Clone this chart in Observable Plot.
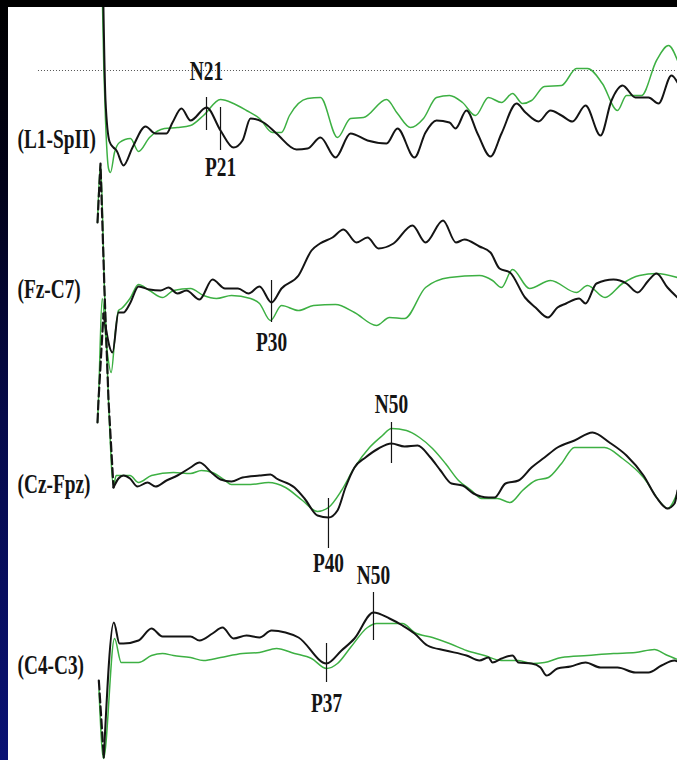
<!DOCTYPE html>
<html><head><meta charset="utf-8">
<script src="https://cdn.jsdelivr.net/npm/d3@7"></script>
<script src="https://cdn.jsdelivr.net/npm/@observablehq/plot@0.6"></script>
<style>
html,body{margin:0;padding:0;background:#000;}
#wrap{position:relative;width:677px;height:760px;overflow:hidden;background:#fff;}
#wrap svg{position:absolute;left:0;top:0;}
#topbar{position:absolute;left:0;top:0;width:677px;height:7px;background:#000;z-index:5;}
#leftbar{position:absolute;left:0;top:0;width:8px;height:760px;z-index:5;
  background:linear-gradient(to bottom,#000 0%,#02021a 25%,#060a4a 55%,#0a1274 100%);}
</style></head>
<body><div id="wrap"><div id="topbar"></div><div id="leftbar"></div></div>
<script>
// ---- data: time (ms after stimulus), amplitude (arbitrary units, up = positive)
const channels = ["(L1-SpII)", "(Fz-C7)", "(Cz-Fpz)", "(C4-C3)"];

const l1Black = [[0.43,15.0],[0.87,3.0],[1.56,-1.1],[2.25,-1.7],[2.77,-2.0],[3.99,-3.5],[5.55,-1.7],[7.80,0.4],[9.53,-0.3],[11.44,-0.3],[12.48,0.8],[14.04,2.2],[15.60,1.0],[18.37,2.3],[20.80,0.0],[23.05,-1.7],[24.61,-1.0],[26.00,1.2],[28.25,0.8],[30.50,-0.3],[33.97,-1.9],[35.88,-1.8],[38.13,-0.7],[40.73,-2.7],[43.33,-0.3],[46.27,-1.0],[49.57,-1.3],[51.47,0.2],[54.42,-2.7],[56.33,-0.2],[58.23,1.0],[60.49,0.8],[61.53,0.2],[63.43,2.0],[65.34,-0.3],[67.59,-2.6],[69.50,-0.3],[72.10,2.7],[73.66,1.8],[75.91,0.9],[77.99,2.0],[79.90,1.5],[81.80,0.9],[84.06,2.5],[86.66,-0.5],[88.56,3.0],[90.47,4.5],[92.72,3.3],[94.97,3.3],[96.71,2.7],[98.96,5.5],[100,4.8]];
const l1Green = [[0.26,15.0],[0.57,6.3],[0.87,1.0],[1.39,-3.8],[1.73,-4.2],[2.43,-2.2],[3.29,-1.2],[5.20,-0.8],[6.59,-2.1],[8.49,-0.7],[11.09,0.2],[13.34,0.3],[15.60,0.5],[17.85,1.5],[20.80,3.1],[23.05,2.7],[25.30,2.0],[27.56,1.2],[29.81,-0.2],[31.37,-0.2],[32.76,1.5],[35.88,3.2],[38.13,3.3],[41.07,-0.7],[43.33,1.2],[45.58,1.3],[49.57,3.1],[51.47,1.7],[53.73,0.3],[55.98,1.2],[58.23,3.3],[60.49,3.5],[62.74,2.8],[64.99,1.5],[67.24,3.3],[69.50,2.8],[71.40,3.7],[73.14,2.7],[74.70,3.0],[76.95,4.4],[79.90,4.5],[82.50,6.2],[84.40,6.2],[86.97,4.7],[89.60,2.0],[91.16,3.5],[93.76,3.5],[96.36,7.0],[98.44,8.5],[100,7.0]];

const fzBlack = [[-0.52,-12.7],[-0.35,-10.5],[0.52,-1.8],[2.08,-5.7],[3.12,-1.7],[3.99,-1.7],[5.11,-0.8],[6.59,0.9],[8.49,0.6],[10.40,0.5],[11.79,0.8],[13.34,0.2],[14.90,0.5],[17.16,-0.4],[19.41,1.6],[21.58,0.7],[23.83,0.7],[25.65,0.2],[27.56,0.9],[29.64,-0.7],[31.37,0.7],[34.32,2.0],[36.57,4.5],[38.04,5.2],[40.21,5.8],[42.11,6.6],[44.37,5.3],[46.27,5.8],[48.18,4.7],[50.78,5.2],[54.07,7.0],[56.33,5.3],[59.36,7.5],[61.61,5.3],[63.08,5.6],[65.68,4.9],[67.59,4.3],[69.15,2.7],[70.97,2.3],[73.57,-0.2],[75.39,-1.2],[77.56,-2.2],[79.20,-1.2],[80.69,-0.8],[82.95,-0.3],[84.06,-0.8],[85.96,1.2],[88.91,1.6],[91.16,1.2],[93.07,0.3],[94.97,1.5],[96.36,2.2],[98.27,0.8],[100,-0.2]];
const fzGreen = [[-0.52,-12.7],[-0.35,-10.5],[0.29,-0.3],[1.04,-5.0],[1.85,-7.7],[2.60,-3.5],[3.12,-1.5],[3.64,-1.3],[5.11,-0.3],[6.59,1.1],[8.49,0.5],[10.75,-0.2],[12.65,0.5],[15.60,0.7],[17.85,0.0],[20.10,-0.3],[22.70,0.0],[26.00,-0.3],[27.56,-0.8],[29.46,-2.5],[31.37,-1.0],[34.32,-1.5],[36.92,-1.0],[40.73,-0.9],[44.02,-1.7],[47.83,-3.0],[50.09,-2.2],[52.69,-2.3],[56.33,0.8],[60.49,1.8],[65.68,2.0],[67.94,1.5],[69.50,0.8],[71.40,2.6],[74.35,0.7],[77.99,1.5],[82.50,0.3],[84.40,1.0],[87.44,-0.2],[90.47,1.2],[93.41,2.0],[96.36,2.2],[100,1.8]];

const czBlack = [[-0.52,26.3],[0.0,32.2],[0.69,19.5],[1.39,8.5],[2.25,-0.2],[3.12,0.7],[3.99,1.0],[5.11,0.7],[6.41,-0.1],[8.15,0.3],[9.53,-0.1],[11.44,0.5],[13.34,1.0],[15.60,1.8],[17.16,2.3],[19.41,1.2],[20.80,0.6],[22.70,0.4],[24.61,0.8],[27.56,1.0],[29.46,1.1],[30.50,0.7],[33.62,-0.2],[35.36,-1.3],[37.61,-3.0],[39.51,-3.2],[41.07,-2.5],[42.46,-0.2],[44.02,1.8],[45.93,2.8],[48.18,3.7],[50.43,4.2],[52.69,3.9],[54.94,4.0],[57.19,2.8],[58.93,1.5],[60.83,0.2],[62.74,0.0],[64.64,-0.8],[67.24,-1.2],[68.28,-1.2],[70.19,0.2],[72.44,0.5],[74.70,1.8],[76.95,2.8],[79.20,3.8],[82.15,4.5],[85.27,5.3],[88.21,4.3],[91.16,3.0],[94.11,1.0],[96.36,-1.2],[98.27,-2.3],[99.48,-1.8],[100,-0.5]];
const czGreen = [[-0.52,26.3],[0.0,32.2],[0.69,19.5],[1.39,8.5],[2.25,0.0],[2.72,1.0],[5.11,1.0],[6.59,0.3],[8.84,1.0],[12.65,1.3],[15.60,1.2],[17.50,1.5],[19.41,1.3],[21.58,0.5],[22.70,0.1],[26.00,0.1],[29.12,0.3],[32.06,-0.2],[35.01,-1.5],[37.61,-2.6],[39.51,-2.2],[41.77,-0.5],[44.02,1.8],[46.62,3.8],[48.87,5.0],[50.43,5.7],[53.03,5.5],[55.29,4.8],[57.54,3.7],[59.79,2.2],[62.05,0.5],[64.30,-0.5],[66.03,-1.3],[68.80,-1.3],[70.97,-1.7],[73.14,-0.5],[75.39,0.5],[77.64,0.8],[79.90,2.2],[82.15,3.8],[87.35,3.8],[90.47,2.7],[94.11,0.8],[97.23,-1.8],[98.27,-2.3],[100,-0.7]];

const c4Black = [[-0.29,-2.5],[0.57,-10.2],[2.31,3.3],[3.29,1.2],[3.99,1.2],[6.59,1.5],[8.84,2.7],[10.75,1.9],[15.60,1.9],[17.16,1.5],[19.41,2.2],[21.14,2.8],[23.05,1.7],[25.30,2.0],[27.56,1.8],[29.64,2.5],[32.06,2.3],[34.32,1.8],[39.17,-0.8],[41.77,0.5],[44.02,1.7],[47.31,4.3],[50.09,3.7],[52.34,3.0],[54.42,2.2],[56.67,1.0],[59.79,0.5],[63.43,0.0],[65.68,-0.5],[67.24,-0.2],[67.94,-0.7],[69.50,-0.3],[71.40,0.0],[72.44,-0.7],[74.70,-0.8],[76.26,-1.2],[77.30,-2.0],[79.20,-1.3],[81.46,-1.1],[84.06,-0.7],[86.66,-1.2],[89.60,-1.2],[92.72,-1.7],[94.97,-1.7],[97.23,-1.0],[99.48,-0.5],[100,-0.6]];
const c4Green = [[-0.26,-3.5],[0.52,-10.3],[2.43,1.7],[3.59,-0.7],[6.59,-0.7],[8.84,0.0],[10.75,0.2],[12.65,0.0],[15.60,-0.2],[17.85,-0.5],[20.80,-0.2],[24.61,0.2],[27.56,0.3],[30.50,0.7],[33.62,0.2],[36.57,-0.3],[39.17,-1.3],[41.07,-0.8],[43.33,0.8],[46.27,2.8],[47.83,3.2],[50.09,3.2],[52.34,3.2],[54.42,2.3],[57.54,1.8],[60.49,1.2],[63.43,0.5],[66.55,0.0],[69.50,-0.5],[72.44,-0.5],[74.70,-0.8],[76.95,-0.7],[79.90,-0.2],[84.40,0.0],[88.91,0.2],[92.72,0.3],[96.01,0.6],[97.92,0.1],[100,-0.4]];

// peaks: name, channel index, latency (ms), tick from/to, label position (amplitude)
const peakNames   = ["N21", "P21", "P30", "N50", "P40", "P37", "N50"];
const peakChannel = [0, 0, 1, 2, 2, 3, 3];
const peakLatency = [18.37, 20.80, 29.64, 50.43, 39.51, 39.17, 47.31];
const peakTickTop = [3.3, 2.3, 1.5, 6.3, -1.3, 1.2, 6.3];
const peakTickBot = [0.0, -2.0, -2.7, 2.2, -6.3, -2.7, 1.5];
const peakLabelAt = [5.9, -3.7, -4.7, 8.1, -7.8, -4.8, 8.0];

const referenceLevel = 6.0;            // dotted level on first channel
const referenceStart = -10.75;         // ms

const traces = [[l1Black, l1Green], [fzBlack, fzGreen], [czBlack, czGreen], [c4Black, c4Green]];
const channelLabelAt = [-0.9, 0.6, 0.1, -1.0];
const artifactEnd = [0, 0.52, 2.25, 0.57];   // ms: end of stimulus artifact drawn dashed (0 = none)

// ---- layout
const W = 677, H = 760;
const baselinePx = [130, 295, 485, 655];
const pxPerUnit = 10;
const BLACK = "#141414", GREEN = "#3db043";
const FONT = "'Liberation Serif', 'Times New Roman', serif";
const CONDENSE = 0.69;

const wrap = document.getElementById("wrap");
const peaks = peakNames.map((name, i) => ({name, ch: peakChannel[i], t: peakLatency[i], y1: peakTickTop[i], y2: peakTickBot[i], ly: peakLabelAt[i]}));

channels.forEach((ch, i) => {
  const base = baselinePx[i];
  const [blk, grn] = traces[i];
  const cut = artifactEnd[i];
  const pk = peaks.filter(p => p.ch === i);
  const marks = [];
  if (i === 0) {
    marks.push(Plot.ruleY([{v: referenceLevel, a: referenceStart, b: 100}], {
      y: "v", x1: "a", x2: "b", stroke: "#555", strokeWidth: 1, strokeDasharray: "1,2"
    }));
  }
  const blkArt = cut > 0 ? blk.filter(d => d[0] <= cut) : [];
  const blkMain = cut > 0 ? blk.filter(d => d[0] >= cut) : blk;
  marks.push(
    Plot.line(grn, {x: d => d[0], y: d => d[1], stroke: GREEN, strokeWidth: 1.5, curve: "monotone-x"}),
    Plot.line(blkArt, {x: d => d[0], y: d => d[1], stroke: BLACK, strokeWidth: 2.2, strokeDasharray: "9,4", curve: "linear"}),
    Plot.line(blkMain, {x: d => d[0], y: d => d[1], stroke: BLACK, strokeWidth: 2, curve: "monotone-x"}),
    Plot.ruleX(pk, {x: "t", y1: "y1", y2: "y2", stroke: BLACK, strokeWidth: 1.2}),
    Plot.text(pk, {x: "t", y: "ly", text: "name", fontSize: 28, fontWeight: "bold", fontFamily: FONT,
      fill: BLACK, textAnchor: "middle", lineAnchor: "middle"}),
    Plot.text([{label: ch, v: channelLabelAt[i]}], {frameAnchor: "left", dx: 17, y: "v", text: "label",
      fontSize: 28, fontWeight: "bold", fontFamily: FONT, fill: BLACK, textAnchor: "start", lineAnchor: "middle"})
  );
  const svg = Plot.plot({
    width: W, height: H, margin: 0,
    style: {background: "transparent", overflow: "visible"},
    x: {domain: [0, 100], range: [100, 677], axis: null},
    y: {domain: [(base - H) / pxPerUnit, base / pxPerUnit], axis: null},
    marks
  });
  wrap.appendChild(svg);
  svg.querySelectorAll("text").forEach(t => {
    const w = t.getComputedTextLength();
    t.setAttribute("textLength", (w * CONDENSE).toFixed(1));
    t.setAttribute("lengthAdjust", "spacingAndGlyphs");
  });
});
</script>
</body></html>
